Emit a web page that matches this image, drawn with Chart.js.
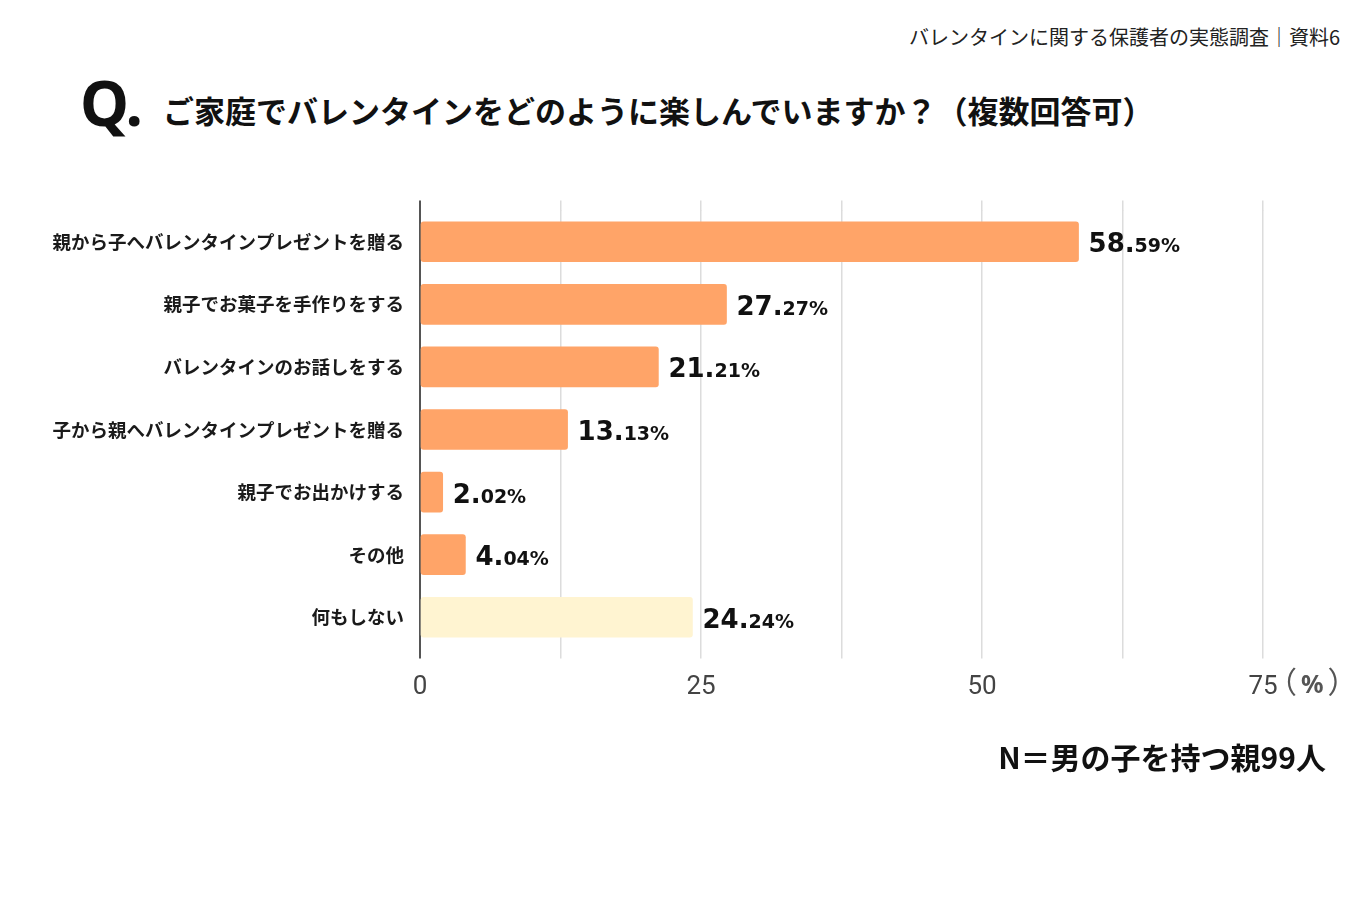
<!DOCTYPE html>
<html lang="ja">
<head>
<meta charset="utf-8">
<title>バレンタインに関する保護者の実態調査</title>
<script src="https://cdn.jsdelivr.net/npm/chart.js@4/dist/chart.umd.min.js"></script>
<style>
  html, body {
    margin: 0;
    padding: 0;
    background: #ffffff;
  }
  body {
    width: 1370px;
    height: 899px;
    position: relative;
    overflow: hidden;
    font-family: "Noto Sans CJK JP", "Noto Sans", sans-serif;
  }
  .header {
    position: absolute;
    right: 30px;
    top: 22px;
    font-size: 20px;
    color: #222;
    white-space: nowrap;
  }
  .qmark {
    position: absolute;
    left: 80px;
    top: 62px;
    font-family: "Noto Sans", sans-serif;
    font-size: 62px;
    line-height: 80px;
    font-weight: 700;
    color: #111;
    letter-spacing: -1px;
  }
  .question {
    position: absolute;
    left: 163px;
    top: 89px;
    font-size: 31px;
    line-height: 42px;
    font-weight: 700;
    color: #111;
    white-space: nowrap;
  }
  .unit {
    position: absolute;
    left: 1267px;
    top: 660px;
    font-size: 30px;
    line-height: 40px;
    color: #555;
    white-space: nowrap;
  }
  .unit .pct {
    font-family: "Noto Sans", sans-serif;
    font-size: 25px;
    font-weight: 700;
    padding: 0 4px;
  }
  .note {
    position: absolute;
    right: 44px;
    top: 734px;
    font-size: 30px;
    font-weight: 700;
    color: #111;
    white-space: nowrap;
  }
  #chartWrap {
    position: absolute;
    left: 0;
    top: 0;
    width: 1370px;
    height: 899px;
  }
</style>
</head>
<body>
<div class="header">バレンタインに関する保護者の実態調査｜資料6</div>
<div class="qmark">Q.</div>
<div class="question">ご家庭でバレンタインをどのように楽しんでいますか？（複数回答可）</div>
<div id="chartWrap"><canvas id="valentineChart"></canvas></div>
<div class="unit">（<span class="pct">%</span>）</div>
<div class="note">N＝男の子を持つ親99人</div>

<script>
// --- data ---
const categories = [
    '親から子へバレンタインプレゼントを贈る',
    '親子でお菓子を手作りをする',
    'バレンタインのお話しをする',
    '子から親へバレンタインプレゼントを贈る',
    '親子でお出かけする',
    'その他',
    '何もしない'
];
const percentages = [58.59, 27.27, 21.21, 13.13, 2.02, 4.04, 24.24];
const barColors = ['#ffa468', '#ffa468', '#ffa468', '#ffa468', '#ffa468', '#ffa468', '#fff4d1'];
const tickLabels = [0, 25, 50, 75];

// value labels: "58." large, "59%" small
const valueLabelPlugin = {
    id: 'valueLabels',
    afterDatasetsDraw(chart) {
        const ctx = chart.ctx;
        const meta = chart.getDatasetMeta(0);
        ctx.save();
        ctx.fillStyle = '#111';
        ctx.textBaseline = 'alphabetic';
        ctx.textAlign = 'left';
        meta.data.forEach((bar, i) => {
            const parts = percentages[i].toFixed(2).split('.');
            const big = parts[0] + '.';
            const small = parts[1] + '%';
            let x = bar.x + 10;
            const y = bar.y + 10.5;
            ctx.font = '700 26px "DejaVu Sans", sans-serif';
            ctx.fillText(big, x, y);
            x += ctx.measureText(big).width;
            ctx.font = '700 19px "DejaVu Sans", sans-serif';
            ctx.fillText(small, x, y);
        });
        ctx.restore();
    }
};

const ctx = document.getElementById('valentineChart').getContext('2d');

const gridColor = (c) => c.tick && c.tick.value === 0 ? '#555' : '#dcdcdc';
const gridWidth = (c) => c.tick && c.tick.value === 0 ? 2 : 1.5;

new Chart(ctx, {
    type: 'bar',
    data: {
        labels: categories,
        datasets: [{
            data: percentages,
            backgroundColor: barColors,
            borderWidth: 0,
            borderRadius: 3,
            borderSkipped: false,
            barThickness: 40
        }]
    },
    options: {
        indexAxis: 'y',
        responsive: true,
        maintainAspectRatio: false,
        animation: false,
        layout: {
            padding: { left: 20, right: 107, top: 200.5, bottom: 200.5 }
        },
        plugins: {
            legend: { display: false },
            tooltip: { enabled: false }
        },
        scales: {
            x: {
                position: 'bottom',
                min: 0,
                max: 75,
                ticks: {
                    stepSize: 12.5,
                    color: '#444',
                    padding: 13,
                    font: { family: 'Roboto, "Noto Sans", sans-serif', size: 26 },
                    callback: (value) => tickLabels.includes(value) ? String(value) : ''
                },
                grid: {
                    color: gridColor,
                    lineWidth: gridWidth,
                    tickLength: 10
                },
                border: { display: false },
                afterFit: (scale) => { scale.height = 50; }
            },
            xTop: {
                axis: 'x',
                position: 'top',
                min: 0,
                max: 75,
                ticks: { display: false, stepSize: 12.5 },
                grid: {
                    drawOnChartArea: false,
                    color: gridColor,
                    lineWidth: gridWidth,
                    tickLength: 10
                },
                border: { display: false },
                afterFit: (scale) => { scale.height = 10; }
            },
            y: {
                grid: { display: false },
                border: { display: false },
                ticks: {
                    color: '#1a1a1a',
                    padding: 8,
                    font: { family: '"Noto Sans CJK JP", sans-serif', size: 18.5, weight: '700' }
                },
                afterFit: (scale) => { scale.width = 400; }
            }
        }
    },
    plugins: [valueLabelPlugin]
});
</script>
</body>
</html>
